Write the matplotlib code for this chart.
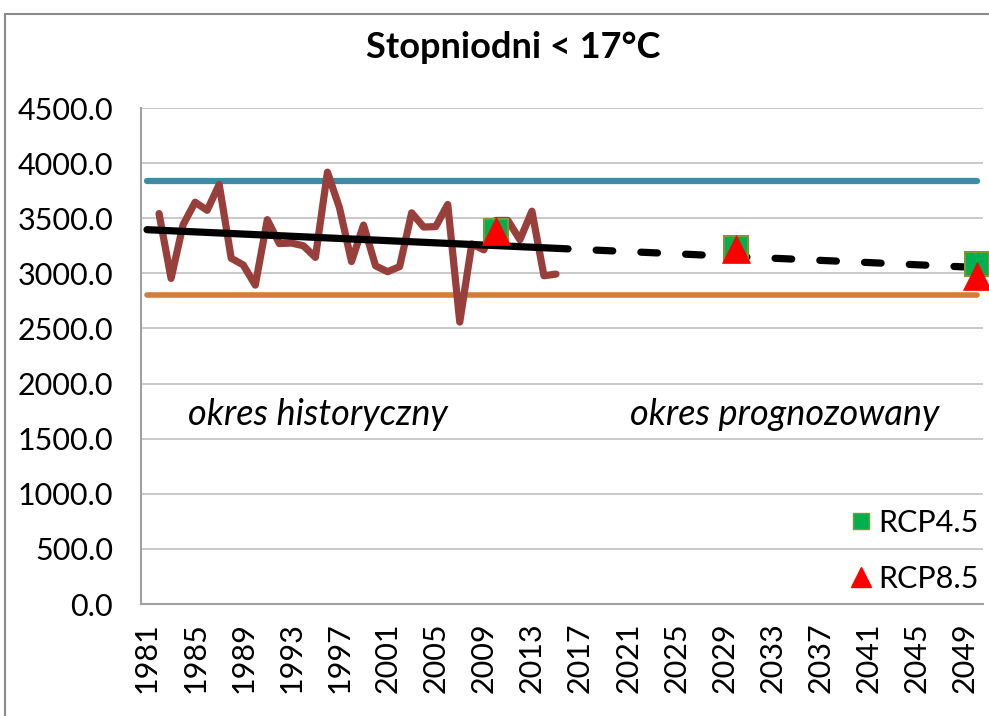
import numpy as np
import matplotlib
matplotlib.use("Agg")
import matplotlib.pyplot as plt
from matplotlib.lines import Line2D
from matplotlib.patches import Rectangle

plt.rcParams['font.family'] = ['Lato', 'DejaVu Sans']

# data
all_years = list(range(1981, 2051))
hist_years = list(range(1982, 2016))
hist_vals = [3542, 2954, 3441, 3645, 3572, 3806, 3137, 3076, 2893, 3487,
             3270, 3275, 3250, 3145, 3918, 3595, 3107, 3438, 3068, 3015,
             3061, 3549, 3420, 3424, 3625, 2558, 3267, 3213, 3480, 3480,
             3305, 3564, 2978, 2993]
upper_level = 3840
lower_level = 2800
trend_hist_years = [1981, 2016]
trend_hist_vals = [3396, 3222]
trend_fcst_years = [2016, 2050]
trend_fcst_vals = [3222, 3053]
rcp_years = [2010, 2030, 2050]
rcp45_vals = [3385, 3230, 3085]
rcp85_vals = [3385, 3220, 2975]
xtick_years = list(range(1981, 2050, 4))
ytick_vals = list(range(0, 4501, 500))

W, H = 989, 716
fig = plt.figure(figsize=(W / 100, H / 100), dpi=100)
ax = fig.add_axes([141 / W, (H - 604) / H, 842 / W, 496 / H])

# outer chart frame
fig.add_artist(Rectangle((5 / W, -0.1), 1.2, (H - 14) / H + 0.1,
                         transform=fig.transFigure, fill=False,
                         ec='#8a8a8a', lw=1.5))

ax.set_xlim(1980.5, 2050.5)
ax.set_ylim(0, 4500)
ax.set_yticks(ytick_vals)
ax.set_yticklabels([f"{v:.1f}" for v in ytick_vals])
ax.set_xticks(xtick_years)
ax.set_xticklabels([str(y) for y in xtick_years], rotation=90)
ax.tick_params(axis='both', length=0, labelsize=22, colors='#000000')
ax.tick_params(axis='y', pad=20)
ax.tick_params(axis='x', pad=13)
ax.grid(axis='y', color='#c0c0c0', lw=1.2)
ax.set_axisbelow(True)
for s in ['top', 'right']:
    ax.spines[s].set_visible(False)
for s in ['left', 'bottom']:
    ax.spines[s].set_color('#a0a0a0')
    ax.spines[s].set_linewidth(1.5)

ax.plot(all_years, [upper_level] * len(all_years), color='#3c8ca5', lw=4.5,
        solid_capstyle='round')
ax.plot(all_years, [lower_level] * len(all_years), color='#d27d38', lw=4.0,
        solid_capstyle='round')
ax.plot(hist_years, hist_vals, color='#983f3c', lw=5.2,
        solid_capstyle='round', solid_joinstyle='round')
ax.plot(trend_hist_years, trend_hist_vals, color='black', lw=5.2,
        solid_capstyle='round')
ax.plot(trend_fcst_years, trend_fcst_vals, color='black', lw=5.2,
        linestyle=(2.3, (2.3, 3.9)), dash_capstyle='round')

ax.plot(rcp_years, rcp45_vals, ls='none', marker='s', ms=17,
        mfc='#00b050', mec='#7a9a3a', mew=1.5, clip_on=False, zorder=5)
ax.plot(rcp_years, rcp85_vals, ls='none', marker='^', ms=20,
        mfc='#ff0000', mec='#ff0000', mew=0.5, clip_on=False, zorder=6)

ax.text(1995.2, 1715, 'okres historyczny', style='italic', fontsize=26,
        ha='center', va='center')
ax.text(2034.0, 1715, 'okres prognozowany', style='italic', fontsize=26,
        ha='center', va='center')

handles = [Line2D([], [], ls='none', marker='s', ms=12, mfc='#00b050',
                  mec='#7a9a3a', mew=1),
           Line2D([], [], ls='none', marker='^', ms=14, mfc='#ff0000',
                  mec='#ff0000')]
ax.legend(handles, ['RCP4.5', 'RCP8.5'], loc='upper left',
          bbox_to_anchor=(846 / W, (H - 509) / H),
          bbox_transform=fig.transFigure, frameon=False, fontsize=22,
          handlelength=1.0, handletextpad=0.05, labelspacing=0.9,
          borderpad=0, borderaxespad=0)

fig.text(513 / W, 1 - 47 / H, 'Stopniodni < 17°C', ha='center', va='center',
         fontsize=26, fontweight='bold')

fig.savefig('out.png', dpi=100)
